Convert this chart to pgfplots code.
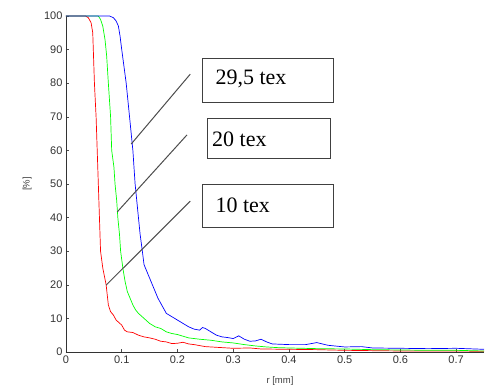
\documentclass[border=0pt]{standalone}
\usepackage{fontspec}
\setmainfont{Liberation Sans}
\newfontfamily\serif{Liberation Serif}
\usepackage{pgfplots}
\pgfplotsset{compat=1.18}
\begin{document}
\begin{tikzpicture}
\begin{axis}[
  scale only axis, width=418pt, height=336pt,
  xmin=0, xmax=0.75, ymin=0, ymax=100,
  axis x line*=bottom, axis y line*=left,
  axis line style={-, black!80, line width=0.8pt},
  xtick={0,0.1,...,0.7}, ytick={0,10,...,100},
  tick align=inside, major tick length=3pt,
  tick style={black!70, line width=0.5pt},
  /pgf/number format/assume math mode=true,
  ticklabel style={font=\fontsize{11}{13}\selectfont, text=black!80},
  xticklabel style={/pgf/number format/fixed},
  xlabel={r [mm]}, ylabel={[\%]},
  label style={font=\fontsize{9.5}{11}\selectfont, text=black!75},
  xlabel style={at={(axis description cs:0.512,-0.086)}, anchor=center},
  ylabel style={at={(axis description cs:-0.093,0.5)}, anchor=center},
  clip=false,
]
\addplot[red, line width=0.7pt] coordinates {
(0,100) (0.035,100) (0.04,99.5) (0.045,98) (0.048,95) (0.049,90) (0.051,80) (0.054,70) (0.056,60) (0.058,50) (0.059,45) (0.06,40) (0.062,30) (0.066,25) (0.072,20) (0.074,17) (0.076,14) (0.08,12) (0.085,11) (0.09,9.5) (0.1,8) (0.105,6.5) (0.11,6) (0.12,5.8) (0.13,5) (0.14,4.5) (0.15,4.2) (0.16,3.8) (0.17,3.2) (0.18,3) (0.19,2.5) (0.2,2.6) (0.21,2.9) (0.22,2.4) (0.23,2.2) (0.25,1.6) (0.28,1.3) (0.3,1.1) (0.33,1.2) (0.35,0.9) (0.4,0.8) (0.45,0.7) (0.5,0.5) (0.55,0.4) (0.6,0.3) (0.65,0.3) (0.7,0.3) (0.75,0.2)};
\addplot[green, line width=0.7pt] coordinates {
(0,100) (0.058,100) (0.062,99) (0.066,97) (0.07,93) (0.073,88) (0.076,80) (0.078,75) (0.08,70) (0.082,60) (0.086,55) (0.088,50) (0.091,45) (0.093,40) (0.096,35) (0.098,30) (0.102,25) (0.106,21) (0.11,18) (0.115,16) (0.12,14) (0.125,12.5) (0.13,11.5) (0.14,10) (0.15,8.5) (0.16,7.5) (0.17,7) (0.18,6) (0.19,5.5) (0.2,5.2) (0.21,4.7) (0.22,4.2) (0.24,3.8) (0.26,3.5) (0.28,3) (0.3,2.7) (0.32,2.2) (0.34,1.8) (0.36,1.5) (0.38,1.3) (0.4,1.2) (0.45,1) (0.5,0.9) (0.55,0.7) (0.6,0.6) (0.65,0.5) (0.7,0.5) (0.75,0.3)};
\addplot[blue, line width=0.7pt] coordinates {
(0,100) (0.078,100) (0.085,99.5) (0.09,98.5) (0.094,97) (0.097,94) (0.1,90) (0.104,85) (0.108,80) (0.111,75) (0.114,70) (0.117,65) (0.12,60) (0.122,55) (0.124,50) (0.127,45) (0.13,40) (0.133,35) (0.137,30) (0.14,26) (0.145,24) (0.15,22) (0.155,20) (0.16,18) (0.165,16) (0.17,14.5) (0.175,13) (0.18,11.5) (0.19,10.5) (0.2,9.5) (0.21,8.5) (0.22,7.5) (0.23,6.8) (0.24,6.5) (0.245,7.3) (0.25,7) (0.26,6) (0.27,5) (0.28,4.5) (0.29,4.3) (0.3,4) (0.31,4.8) (0.32,3.8) (0.33,3.2) (0.34,3.3) (0.35,3.8) (0.36,3) (0.37,2.4) (0.4,2.2) (0.43,2.2) (0.45,2.8) (0.47,2) (0.5,1.5) (0.53,1.6) (0.55,1.2) (0.6,1.1) (0.65,1) (0.7,1.1) (0.75,0.8)};
% connector lines
\draw[black!70, line width=1pt] (axis cs:0.117,61.9) -- (axis cs:0.223,82.7);
\draw[black!70, line width=1pt] (axis cs:0.092,41.7) -- (axis cs:0.217,64.6);
\draw[black!70, line width=1pt] (axis cs:0.072,19.9) -- (axis cs:0.223,44.9);
% boxes
\draw[black!75, line width=0.9pt, fill=white] (axis cs:0.244,74.4) rectangle (axis cs:0.479,87.5);
\node[font=\serif\fontsize{22}{26}\selectfont, anchor=west, inner sep=0pt] at (axis cs:0.268,81.2) {29,5 tex};
\draw[black!75, line width=0.9pt, fill=white] (axis cs:0.253,57.7) rectangle (axis cs:0.474,69.6);
\node[font=\serif\fontsize{22}{26}\selectfont, anchor=west, inner sep=0pt] at (axis cs:0.262,63.4) {20 tex};
\draw[black!75, line width=0.9pt, fill=white] (axis cs:0.244,37.2) rectangle (axis cs:0.479,50);
\node[font=\serif\fontsize{22}{26}\selectfont, anchor=west, inner sep=0pt] at (axis cs:0.268,43.8) {10 tex};
\end{axis}
\path[use as bounding box] ([xshift=-66pt,yshift=-36pt]current axis.south west) rectangle ([xshift=3pt,yshift=16pt]current axis.north east);
\end{tikzpicture}
\end{document}
